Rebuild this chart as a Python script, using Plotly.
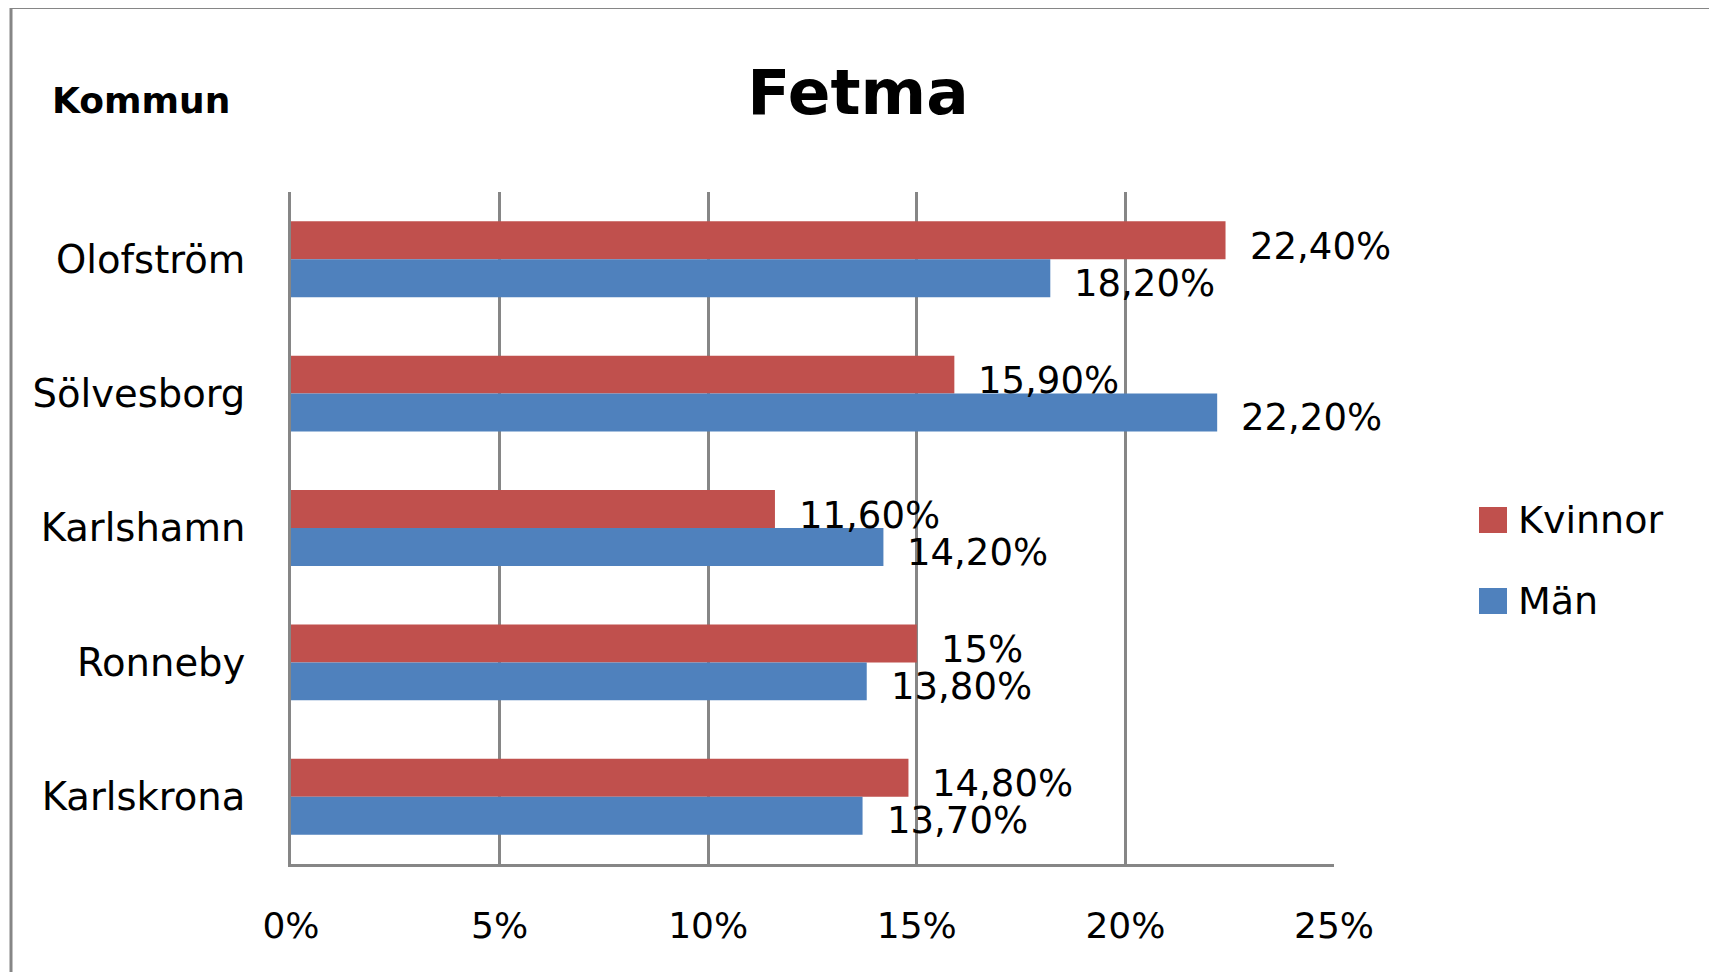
import plotly.graph_objs as go

# data, top to bottom as in the chart
kommuner = ["Olofström", "Sölvesborg", "Karlshamn", "Ronneby", "Karlskrona"]
kvinnor = [22.4, 15.9, 11.6, 15.0, 14.8]
man = [18.2, 22.2, 14.2, 13.8, 13.7]
series_names = ["Kvinnor", "Män"]
tick_vals = [0, 5, 10, 15, 20, 25]
tick_text = ["0%", "5%", "10%", "15%", "20%", "25%"]

RED = "#C0504D"
BLUE = "#4F81BD"
GREY = "#868686"
FONT = "DejaVu Sans"

# page is 1717x972, the html body adds an 8px margin
OFF = 8
W, H = 1717 - OFF, 972 - OFF
# plot area in page pixels: x 291..1334, y 192..864
L, T = 291 - OFF, 192 - OFF
R, B = W - (1334 - OFF), H - (864 - OFF)
PW, PH = W - L - R, H - T - B


def px_x(px):
    # page pixel -> paper x
    return (px - OFF - L) / PW


def px_y(py):
    # page pixel -> paper y
    return (H - B - (py - OFF)) / PH


def fmt(v):
    if float(v).is_integer():
        return "%d%%" % v
    return ("%.2f" % v).replace(".", ",") + "%"


fig = go.Figure()
shapes = []
annotations = []
# yshift puts the excel-style labels a bit below each bar's middle
for name, vals, col, yshift in [(series_names[0], kvinnor, RED, 13),
                                (series_names[1], man, BLUE, -24)]:
    fig.add_trace(go.Bar(
        y=kommuner, x=vals, name=name, orientation="h",
        marker=dict(color=col, line=dict(width=0)),
        showlegend=False,
    ))
    for k, v in zip(kommuner, vals):
        annotations.append(dict(x=v, y=k, xref="x", yref="y", text=fmt(v),
                                showarrow=False, xanchor="left", yanchor="middle",
                                xshift=22, yshift=yshift,
                                font=dict(family=FONT, size=37, color="#000000")))

# legend drawn by hand so the squares can be as big as in the original
for i, (name, col) in enumerate(zip(series_names, [RED, BLUE])):
    cy = 520 + i * 81
    shapes.append(dict(type="rect", xref="paper", yref="paper",
                       x0=px_x(1479), x1=px_x(1507), y0=px_y(cy - 13), y1=px_y(cy + 13),
                       fillcolor=col, line=dict(width=0)))
    annotations.append(dict(text=name, xref="paper", yref="paper",
                            x=px_x(1516), y=px_y(cy), xanchor="left", yanchor="middle",
                            showarrow=False, font=dict(family=FONT, size=38, color="#000000")))

# outer chart frame
shapes.append(dict(type="rect", xref="paper", yref="paper",
                   x0=px_x(11), x1=px_x(1715), y0=px_y(1010), y1=px_y(7.5),
                   line=dict(color=GREY, width=3), layer="below"))

annotations.append(dict(text="<b>Kommun</b>", xref="paper", yref="paper",
                        x=px_x(50), y=px_y(100), xanchor="left", yanchor="middle",
                        showarrow=False, font=dict(family=FONT, size=36, color="#000000")))

fig.update_layout(
    width=W, height=H,
    margin=dict(l=L, r=R, t=T, b=B, pad=0),
    paper_bgcolor="white", plot_bgcolor="white",
    title=dict(text="<b>Fetma</b>", x=(858 - OFF) / W, xanchor="center", xref="container",
               y=1 - (92 - OFF) / H, yanchor="middle",
               font=dict(family=FONT, size=63, color="#000000")),
    barmode="group", bargap=0.435, bargroupgap=0,
    showlegend=False,
    shapes=shapes, annotations=annotations,
    xaxis=dict(range=[0, 25], tickvals=tick_vals, ticktext=tick_text,
               showgrid=True, gridcolor=GREY, gridwidth=2.5,
               showline=True, linecolor=GREY, linewidth=3,
               zeroline=False, ticks="", ticklabelstandoff=28,
               tickfont=dict(family=FONT, size=36, color="#000000")),
    yaxis=dict(autorange="reversed", showgrid=False,
               showline=True, linecolor=GREY, linewidth=3,
               ticks="", ticklabelstandoff=35,
               tickfont=dict(family=FONT, size=38.5, color="#000000")),
    font=dict(family=FONT, color="#000000"),
)

fig.write_html("out.html")
